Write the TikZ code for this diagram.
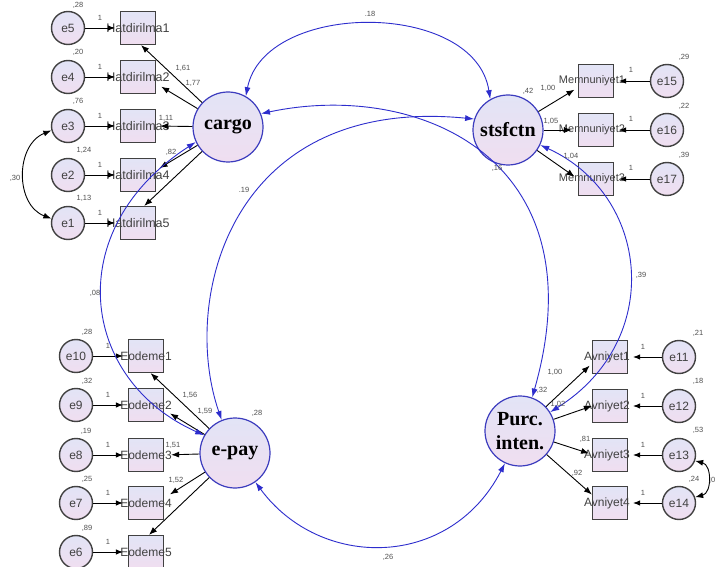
\documentclass[tikz,border=0pt]{standalone}
\usepackage{fontspec}
\setmainfont{Liberation Sans}
\newfontfamily\latfont{Liberation Serif}
\usetikzlibrary{arrows.meta}
\definecolor{fillA}{RGB}{226,228,246}
\definecolor{fillB}{RGB}{240,222,240}
\definecolor{edgeblue}{RGB}{60,60,190}
\definecolor{covblue}{RGB}{45,45,205}
\definecolor{darkgr}{RGB}{65,65,65}
\definecolor{numgr}{RGB}{80,80,80}
\tikzset{
 errnode/.style={circle, draw=darkgr, line width=1.4pt, top color=fillA, bottom color=fillB, minimum size=33pt, inner sep=0pt, font=\fontsize{12}{12}\selectfont, text=darkgr},
 obsnode/.style={rectangle, draw=darkgr, line width=1.2pt, top color=fillA, bottom color=fillB, minimum width=35pt, minimum height=33pt, inner sep=0pt},
 obslbl/.style={font=\fontsize{12}{12}\selectfont, text=darkgr, inner sep=0pt},
 latnode/.style={circle, draw=edgeblue, line width=1.2pt, top color=fillA, bottom color=fillB, minimum size=70pt, inner sep=0pt, font=\latfont\bfseries\fontsize{20}{24}\selectfont, align=center},
 num/.style={font=\fontsize{7.5}{8}\selectfont, text=numgr, inner sep=0pt},
 load/.style={-{Latex[length=8pt,width=6pt]}, line width=0.9pt, black},
 errarr/.style={-{Latex[length=7pt,width=5.5pt]}, line width=0.9pt, black, shorten >=5pt},
 covarr/.style={{Latex[length=9pt,width=6pt]}-{Latex[length=9pt,width=6pt]}, line width=0.9pt, covblue},
 errcov/.style={{Latex[length=8pt,width=6pt]}-{Latex[length=8pt,width=6pt]}, line width=0.9pt, black},
}
\begin{document}
\begin{tikzpicture}[x=1pt,y=-1pt]
\useasboundingbox (0,0) rectangle (716,567);
\clip (0,0) rectangle (716,567);
\fill[white] (0,0) rectangle (716,567);

% latent variables
\node[latnode] (cargo) at (228,127) {cargo};
\node[latnode] (stsf) at (508,130) {stsfctn};
\node[latnode] (epay) at (235,453) {e-pay};
\node[latnode] (purc) at (520,431) {Purc.\\inten.};

% Hatdirilma block
\foreach \i/\e/\y in {1/5/28,2/4/77,3/3/126,4/2/175,5/1/223}{
  \node[obsnode] (h\i) at (138,\y) {};
  \node[obslbl, font=\fontsize{12.5}{12.5}\selectfont] at (h\i) {Hatdirilma\i};
  \node[errnode] (e\e) at (68,\y) {e\e};
  \draw[errarr] (e\e) -- (h\i);
  \node[num] at (100,\y-10) {1};
}
% Odeme block
\foreach \i/\e/\y in {1/10/356,2/9/405,3/8/455,4/7/503,5/6/552}{
  \node[obsnode] (o\i) at (146,\y) {};
  \node[obslbl] at (o\i) {Eodeme\i};
  \node[errnode] (e\e) at (76,\y) {e\e};
  \draw[errarr] (e\e) -- (o\i);
  \node[num] at (108,\y-10) {1};
}
% Memnuniyet block
\foreach \i/\e/\y in {1/15/81,2/16/130,3/17/179}{
  \node[obsnode] (m\i) at (596,\y) {};
  \node[obslbl, font=\fontsize{11}{11}\selectfont] at (592,\y) {Memnuniyet\i};
  \node[errnode] (e\e) at (667,\y) {e\e};
  \draw[errarr] (e\e) -- (m\i);
  \node[num] at (631,\y-11) {1};
}
% Avniyet block
\foreach \i/\e/\y in {1/11/357,2/12/406,3/13/455,4/14/503}{
  \node[obsnode] (a\i) at (610,\y) {};
  \node[obslbl] at (607,\y) {Avniyet\i};
  \node[errnode] (e\e) at (679,\y) {e\e};
  \draw[errarr] (e\e) -- (a\i);
  \node[num] at (643,\y-10) {1};
}

% loadings
\draw[load] (cargo) -- (h1.-80);
\draw[load, shorten >=6pt] (cargo) -- (h2.-20);
\draw[load, shorten >=4pt] (cargo) -- (h3.east);
\draw[load, shorten >=4pt] (cargo) -- (h4.15);
\draw[load] (cargo) -- (h5.70);

\draw[load, shorten >=4pt] (stsf) -- (m1.200);
\draw[load, shorten >=6pt] (stsf) -- (m2.west);
\draw[load, shorten >=4pt] (stsf) -- (m3.west);

\draw[load] (epay) -- (o1.-75);
\draw[load, shorten >=7pt] (epay) -- (o2.-15);
\draw[load, shorten >=7pt] (epay) -- (o3.east);
\draw[load, shorten >=7pt] (epay) -- (o4.15);
\draw[load] (epay) -- (o5.80);

\draw[load, shorten >=3pt] (purc) -- (a1.200);
\draw[load] (purc) -- (a2.west);
\draw[load, shorten >=3pt] (purc) -- (a3.178);
\draw[load] (purc) -- (a4.155);

% error covariances
\draw[errcov] (e3.195) .. controls (15,145) and (15,205) .. (e1.165);
\draw[errcov] (e13.-20) .. controls (712,465) and (712,493) .. (e14.20);

% latent covariances
\draw[covarr] (cargo.60) .. controls (265,0) and (475,0) .. (stsf.120);
\draw[covarr] (cargo.22) .. controls (420,80) and (600,160) .. (purc.70);
\draw[covarr] (epay.112) .. controls (180,300) and (230,95) .. (stsf.162);
\draw[covarr] (cargo.205) .. controls (60,230) and (80,380) .. (epay.150);
\draw[covarr] (epay.-55) .. controls (320,570) and (450,570) .. (purc.-115);
\draw[covarr] (stsf.-25) .. controls (650,195) and (665,340) .. (purc.32);

% variance labels
\node[num] at (78,5) {,28};
\node[num] at (78,52) {,20};
\node[num] at (78,101) {,76};
\node[num] at (84,150) {1,24};
\node[num] at (84,198) {1,13};
\node[num] at (87,332) {,28};
\node[num] at (87,381) {,32};
\node[num] at (86,431) {,19};
\node[num] at (87,479) {,25};
\node[num] at (87,528) {,89};
\node[num] at (684,57) {,29};
\node[num] at (684,106) {,22};
\node[num] at (684,155) {,39};
\node[num] at (698,333) {,21};
\node[num] at (698,381) {,18};
\node[num] at (698,430) {,53};
\node[num] at (694,479) {,24};
% loading labels and covariances
\node[num] at (183,68) {1,61};
\node[num] at (193,83) {1,77};
\node[num] at (166,118) {1,11};
\node[num] at (171,152) {,82};
\node[num] at (528,91) {,42};
\node[num] at (548,88) {1,00};
\node[num] at (551,121) {1,05};
\node[num] at (571,156) {1,04};
\node[num] at (497,168) {,16};
\node[num] at (190,395) {1,56};
\node[num] at (205,411) {1,59};
\node[num] at (173,445) {1,51};
\node[num] at (176,480) {1,52};
\node[num] at (257,413) {,28};
\node[num] at (555,372) {1,00};
\node[num] at (558,404) {1,02};
\node[num] at (585,439) {,81};
\node[num] at (577,473) {,92};
\node[num] at (542,390) {,32};
\node[num] at (370,14) {.18};
\node[num] at (244,190) {.19};
\node[num] at (95,293) {,08};
\node[num] at (641,275) {,39};
\node[num] at (388,557) {,26};
\node[num] at (15,178) {,30};
\node[num, anchor=east] at (715.5,480) {,0};
\end{tikzpicture}
\end{document}
